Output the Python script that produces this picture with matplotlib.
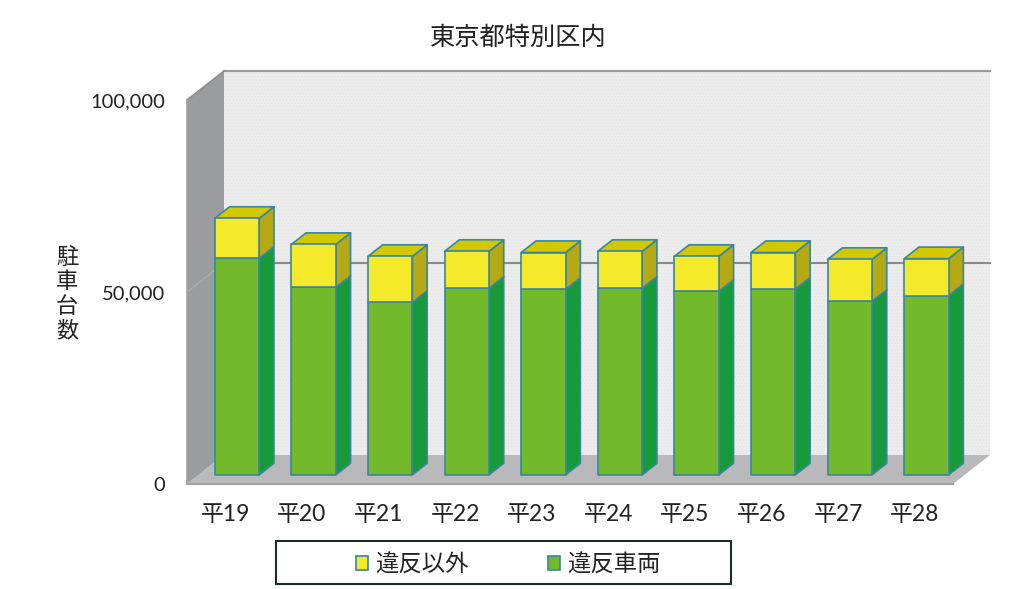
import matplotlib
matplotlib.use('Agg')
import matplotlib.pyplot as plt
from matplotlib.patches import Rectangle

plt.rcParams['font.family'] = ['Lato', 'Noto Sans CJK JP', 'DejaVu Sans']
plt.rcParams['hatch.linewidth'] = 0.4

years = ['平19', '平20', '平21', '平22', '平23', '平24', '平25', '平26', '平27', '平28']
ihan_sharyo = [56400, 48800, 44900, 48600, 48300, 48600, 47800, 48400, 45200, 46700]
ihan_igai = [10400, 11200, 12000, 9600, 9600, 9600, 9100, 9500, 10900, 9600]
y_ticks = [0, 50000, 100000]
y_tick_labels = ['0', '50,000', '100,000']

# depth of the fake 3d box, in data units
DX = 0.483
DY = 7550
BAR_W = 0.58
BAR_FRONT = 0.315
BAR_BACK = 0.715
TEXT_COLOR = '#222222'
EDGE = '#3a86a0'


def pt(x, y, d):
    return x + d * DX, y + d * DY


def poly(ax, points, **kw):
    xs = [p[0] for p in points]
    ys = [p[1] for p in points]
    return ax.fill(xs, ys, clip_on=False, **kw)[0]


def box(ax, x, y0, y1, front, side, top=None, label=None):
    l = x - BAR_W / 2
    r = x + BAR_W / 2
    line = dict(edgecolor=EDGE, linewidth=1.2, joinstyle='round', zorder=2)
    poly(ax, [pt(r, y0, BAR_FRONT), pt(r, y0, BAR_BACK), pt(r, y1, BAR_BACK), pt(r, y1, BAR_FRONT)],
         facecolor=side, **line)
    if top:
        poly(ax, [pt(l, y1, BAR_FRONT), pt(r, y1, BAR_FRONT), pt(r, y1, BAR_BACK), pt(l, y1, BAR_BACK)],
             facecolor=top, **line)
    return poly(ax, [pt(l, y0, BAR_FRONT), pt(r, y0, BAR_FRONT), pt(r, y1, BAR_FRONT), pt(l, y1, BAR_FRONT)],
                facecolor=front, label=label, **line)


fig = plt.figure(figsize=(10.24, 5.89), dpi=100)
ax = fig.add_axes([187 / 1024, 1 - 484 / 589, 766 / 1024, 384 / 589])

xmin, xmax = -0.5, len(years) - 0.5
ymin, ymax = y_ticks[0], y_ticks[-1]
ax.set_xlim(xmin, xmax)
ax.set_ylim(ymin, ymax)

# walls and floor
poly(ax, [pt(xmin, ymin, 1), pt(xmax, ymin, 1), pt(xmax, ymax, 1), pt(xmin, ymax, 1)],
     facecolor='#ececed', edgecolor='#e2e2e3', linewidth=0, hatch='.....', zorder=0)
poly(ax, [pt(xmin, ymin, 0), pt(xmin, ymin, 1), pt(xmin, ymax, 1), pt(xmin, ymax, 0)],
     facecolor='#9a9c9e', edgecolor='none', zorder=0)
poly(ax, [pt(xmin, ymin, 0), pt(xmax, ymin, 0), pt(xmax, ymin, 1), pt(xmin, ymin, 1)],
     facecolor='#b9b9bb', edgecolor='none', zorder=0)

# grid lines and box outline
for y, c in zip(y_ticks[1:], ['#8a8a8a', '#9a9a9a']):
    ax.plot([pt(xmin, y, 1)[0], pt(xmax, y, 1)[0]], [pt(xmin, y, 1)[1], pt(xmax, y, 1)[1]],
            color=c, lw=1.5, clip_on=False, zorder=1)
    ax.plot([pt(xmin, y, 0)[0], pt(xmin, y, 1)[0]], [pt(xmin, y, 0)[1], pt(xmin, y, 1)[1]],
            color='#a9abad' if y < ymax else '#8e8e8e', lw=1.2, clip_on=False, zorder=1)
ax.plot([xmin, xmax], [ymin, ymin], color='#a0a2a4', lw=1.5, clip_on=False, zorder=1)
ax.plot([xmin, xmin], [ymin, ymax], color='#a0a2a4', lw=1.2, clip_on=False, zorder=1)

for i, year in enumerate(years):
    g = ihan_sharyo[i]
    t = g + ihan_igai[i]
    h_g = box(ax, i, 0, g, '#72b92c', '#169a3a', label='違反車両' if i == 0 else None)
    h_y = box(ax, i, g, t, '#f4ea2a', '#b5a915', '#d2c800', label='違反以外' if i == 0 else None)

ax.set_xticks(range(len(years)))
ax.set_xticklabels(years, fontsize=16.5, color=TEXT_COLOR)
ax.set_yticks(y_ticks)
ax.set_yticklabels(y_tick_labels, fontsize=14.5, color=TEXT_COLOR)
ax.tick_params(axis='x', length=0, pad=14.5)
ax.tick_params(axis='y', length=0, pad=16)
for s in ax.spines.values():
    s.set_visible(False)

ax.set_ylabel('駐\n車\n台\n数', rotation=0, fontsize=16, color=TEXT_COLOR, linespacing=1.07,
              va='center', ha='center', family=['Noto Sans CJK JP'])
ax.yaxis.set_label_coords((67 - 187) / 766, (484 - 294) / 384)

fig.suptitle('東京都特別区内', x=518 / 1024, y=1 - 38 / 589, fontsize=18.2, color=TEXT_COLOR,
             va='center', family=['Noto Sans CJK JP'])

fig.add_artist(Rectangle((276 / 1024, 1 - 584 / 589), 455 / 1024, 43 / 589, transform=fig.transFigure,
                         facecolor='white', edgecolor='#1c2b2b', linewidth=1.5))
leg = fig.legend([h_y, h_g], ['違反以外', '違反車両'], loc='center', bbox_to_anchor=(508 / 1024, 1 - 565 / 589),
                 ncol=2, frameon=False, handlelength=0.52, handleheight=0.52,
                 handletextpad=0.3, columnspacing=3.4, labelcolor=TEXT_COLOR,
                 prop={'family': ['Noto Sans CJK JP'], 'size': 16.8})

fig.savefig('out.png', dpi=100)
